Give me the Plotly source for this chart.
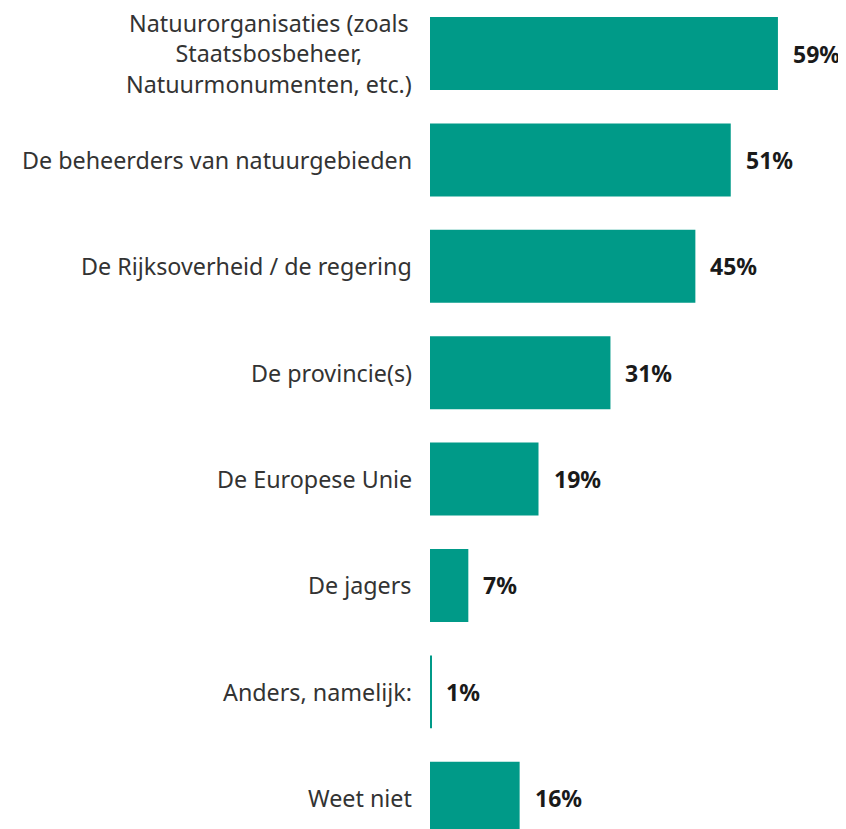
import plotly.graph_objects as go

categories = [
    "Natuurorganisaties (zoals<br>Staatsbosbeheer,<br>Natuurmonumenten, etc.)",
    "De beheerders van natuurgebieden",
    "De Rijksoverheid / de regering",
    "De provincie(s)",
    "De Europese Unie",
    "De jagers",
    "Anders, namelijk:",
    "Weet niet",
]
values = [59.0, 51.0, 45.0, 30.6, 18.4, 6.5, 0.2, 15.2]
value_labels = ["59%", "51%", "45%", "31%", "19%", "7%", "1%", "16%"]

idx = list(range(len(categories)))
color = "#009a88"

fig = go.Figure()
fig.add_trace(go.Bar(
    x=values, y=idx, orientation="h",
    marker=dict(color=color, line=dict(width=0)),
    width=0.686, hoverinfo="skip",
))

for i, (cat, v, lab) in enumerate(zip(categories, values, value_labels)):
    fig.add_annotation(x=0, y=i, xref="x", yref="y", text=cat, showarrow=False,
                       xanchor="right", yanchor="middle", align="center", xshift=-16,
                       font=dict(family="Noto Sans", size=23.3, color="#333333"))
    fig.add_annotation(x=v, y=i, xref="x", yref="y", text="<b>" + lab + "</b>", showarrow=False,
                       xanchor="left", yanchor="middle", xshift=13,
                       font=dict(family="Noto Sans", size=23, color="#1a1a1a"))

fig.update_layout(
    width=846, height=829,
    margin=dict(l=422, r=0, t=0, b=0),
    paper_bgcolor="white", plot_bgcolor="white",
    showlegend=False,
    xaxis=dict(range=[0, 71.9], visible=False, fixedrange=True),
    yaxis=dict(range=[7.364, -0.4276], visible=False, fixedrange=True),
)

fig.write_html("out.html")
